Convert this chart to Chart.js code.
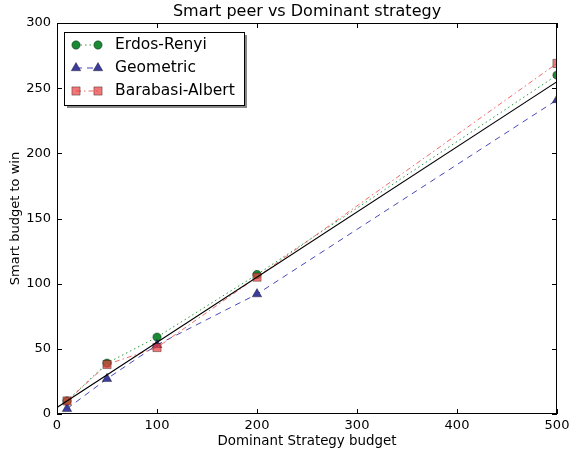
<!DOCTYPE html>
<html>
<head>
<meta charset="utf-8">
<script src="https://cdn.jsdelivr.net/npm/chart.js@4/dist/chart.umd.min.js"></script>
<style>
  html, body { margin: 0; padding: 0; background: #fff; }
  #wrap { width: 569px; height: 450px; }
</style>
</head>
<body>
<div id="wrap"><canvas id="myChart" width="569" height="450"></canvas></div>
<script>
// values
var budgets = [10, 50, 100, 200, 500];
var erdosRenyi = [10, 39, 59, 107, 260];
var geometric = [4, 27, 53, 92, 241];
var barabasiAlbert = [10, 38, 51, 105, 269];
var refBudgets = [0, 500];
var refLine = [5, 255];
var xTicks = [0, 100, 200, 300, 400, 500];
var yTicks = [0, 50, 100, 150, 200, 250, 300];

function pairs(xs, ys) {
  return xs.map(function (x, i) { return { x: x, y: ys[i] }; });
}

Chart.defaults.font.family = 'DejaVu Sans';
Chart.defaults.color = '#000';

var series = [
  {
    label: 'Erdos-Renyi',
    data: pairs(budgets, erdosRenyi),
    borderColor: '#2a9a3a',
    borderDash: [1.5, 3],
    pointStyle: 'circle',
    pointRadius: 4.2,
    pointBackgroundColor: '#1a8a34',
    order: 3
  },
  {
    label: 'Geometric',
    data: pairs(budgets, geometric),
    borderColor: '#4848b8',
    borderDash: [6, 5],
    pointStyle: 'triangle',
    pointRadius: 5.5,
    pointBackgroundColor: '#3c3c9c',
    order: 2
  },
  {
    label: 'Barabasi-Albert',
    data: pairs(budgets, barabasiAlbert),
    borderColor: 'rgba(240,80,80,0.85)',
    borderDash: [5, 3, 1.5, 3],
    pointStyle: 'rect',
    pointRadius: 5.8,
    pointBackgroundColor: 'rgba(235,60,60,0.7)',
    order: 1
  }
];

var datasets = series.map(function (s) {
  return Object.assign({
    borderWidth: 1,
    pointBorderColor: 'rgba(0,0,0,0.6)',
    pointBorderWidth: 0.6,
    fill: false,
    tension: 0
  }, s);
});
datasets.push({
  label: 'reference',
  data: pairs(refBudgets, refLine),
  borderColor: '#000',
  borderWidth: 1.1,
  pointRadius: 0,
  fill: false,
  order: 0
});

// matplotlib-like frame, inward ticks, title and legend
var mplLook = {
  id: 'mplLook',
  afterDraw: function (chart) {
    var c = chart.ctx, a = chart.chartArea;
    var xs = chart.scales.x, ys = chart.scales.y;
    c.save();
    c.strokeStyle = '#000';
    c.lineWidth = 1;
    c.strokeRect(a.left + 0.5, a.top + 0.5, a.right - a.left - 1, a.bottom - a.top - 1);
    c.beginPath();
    xTicks.forEach(function (v) {
      var px = Math.round(xs.getPixelForValue(v)) + 0.5;
      c.moveTo(px, a.bottom); c.lineTo(px, a.bottom - 5);
      c.moveTo(px, a.top); c.lineTo(px, a.top + 5);
    });
    yTicks.forEach(function (v) {
      var py = Math.round(ys.getPixelForValue(v)) + 0.5;
      c.moveTo(a.left, py); c.lineTo(a.left + 5, py);
      c.moveTo(a.right, py); c.lineTo(a.right - 5, py);
    });
    c.stroke();

    // title
    c.fillStyle = '#000';
    c.font = '16px "DejaVu Sans"';
    c.textAlign = 'center';
    c.textBaseline = 'middle';
    c.fillText('Smart peer vs Dominant strategy', (a.left + a.right) / 2, 12);

    // legend
    var bx = 64, by = 32, bw = 180, bh = 73;
    c.fillStyle = '#888';
    c.fillRect(bx + 3, by + 3, bw, bh);
    c.fillStyle = '#fff';
    c.fillRect(bx, by, bw, bh);
    c.strokeStyle = '#000';
    c.strokeRect(bx + 0.5, by + 0.5, bw, bh);
    chart.data.datasets.slice(0, series.length).forEach(function (ds, i) {
      var y = by + 13 + i * 23;
      c.save();
      c.strokeStyle = ds.borderColor;
      c.lineWidth = 1;
      c.setLineDash(ds.borderDash);
      c.beginPath();
      c.moveTo(76, y); c.lineTo(98, y);
      c.stroke();
      c.restore();
      [76, 98].forEach(function (mx) {
        c.fillStyle = ds.pointBackgroundColor;
        c.strokeStyle = ds.pointBorderColor;
        c.lineWidth = ds.pointBorderWidth;
        Chart.helpers.drawPoint(c, { pointStyle: ds.pointStyle, radius: ds.pointRadius, borderWidth: ds.pointBorderWidth, rotation: 0 }, mx, y);
      });
      c.fillStyle = '#000';
      c.font = '15.5px "DejaVu Sans"';
      c.textAlign = 'left';
      c.textBaseline = 'middle';
      c.fillText(ds.label, 115, y);
    });
    c.restore();
  }
};

var ctx = document.getElementById('myChart');
var myChart = new Chart(ctx, {
  type: 'line',
  data: { datasets: datasets },
  options: {
    responsive: false,
    animation: false,
    layout: { padding: { top: 23, right: 12, left: 0, bottom: 0 } },
    plugins: { legend: { display: false }, tooltip: { enabled: false }, title: { display: false } },
    scales: {
      x: {
        type: 'linear',
        min: 0, max: 500,
        afterBuildTicks: function (s) { s.ticks = xTicks.map(function (v) { return { value: v }; }); },
        afterFit: function (s) { s.height = 36; s.paddingRight = 0; s.paddingLeft = 0; },
        grid: { display: false, drawTicks: false },
        border: { display: false },
        ticks: { font: { size: 13 }, padding: 4, maxRotation: 0, color: '#000' },
        title: { display: true, text: 'Dominant Strategy budget', font: { size: 13.4 }, padding: { top: 0, bottom: 0 }, color: '#000' }
      },
      y: {
        min: 0, max: 300,
        afterBuildTicks: function (s) { s.ticks = yTicks.map(function (v) { return { value: v }; }); },
        afterFit: function (s) { s.width = 57; s.paddingTop = 0; s.paddingBottom = 0; },
        grid: { display: false, drawTicks: false },
        border: { display: false },
        ticks: { font: { size: 13 }, padding: 6, color: '#000' },
        title: { display: true, text: 'Smart budget to win', font: { size: 13 }, padding: { top: 8, bottom: 0 }, color: '#000' }
      }
    }
  },
  plugins: [mplLook]
});
</script>
</body>
</html>
